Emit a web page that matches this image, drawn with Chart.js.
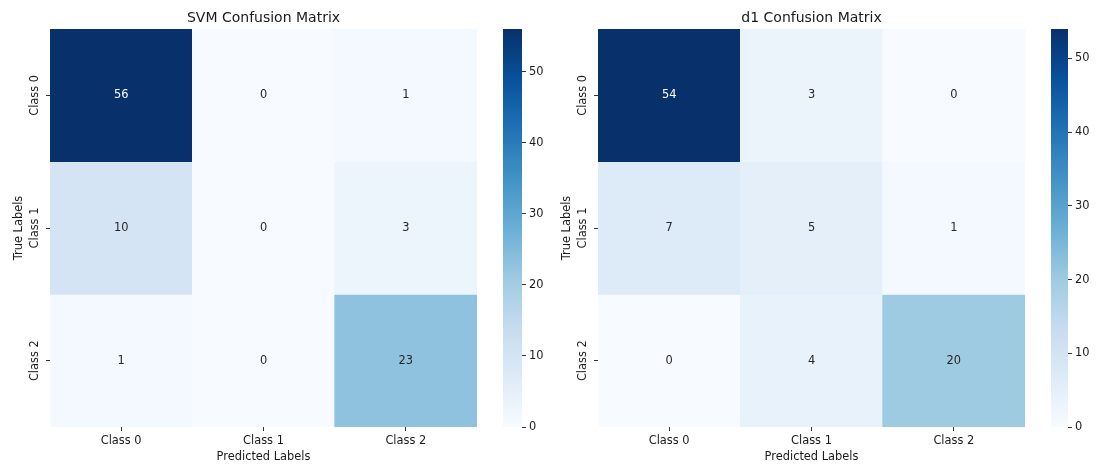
<!DOCTYPE html>
<html>
<head>
<meta charset="utf-8">
<script src="https://cdn.jsdelivr.net/npm/chart.js@4"></script>
<style>
    html, body { margin: 0; padding: 0; background: #fff; }
    #wrap { position: relative; width: 1096px; height: 465px; }
    canvas { position: absolute; }
</style>
</head>
<body>
<div id="wrap">
    <canvas id="svmHeat" style="left:0;top:0;width:490px;height:465px"></canvas>
    <canvas id="svmBar" style="left:490px;top:0;width:60px;height:465px"></canvas>
    <canvas id="d1Heat" style="left:548px;top:0;width:490px;height:465px"></canvas>
    <canvas id="d1Bar" style="left:1038px;top:0;width:58px;height:465px"></canvas>
</div>
<script>
// Data
const classLabels = ['Class 0', 'Class 1', 'Class 2'];
const svmMatrix = [
    [56, 0, 1],
    [10, 0, 3],
    [1, 0, 23]
];
const d1Matrix = [
    [54, 3, 0],
    [7, 5, 1],
    [0, 4, 20]
];
const colorbarTicks = [0, 10, 20, 30, 40, 50];

// matplotlib "Blues" colormap stops
const bluesStops = ['#f7fbff', '#deebf7', '#c6dbef', '#9ecae1', '#6baed6', '#4292c6', '#2171b5', '#08519c', '#08306b'];

const FONT = 'DejaVu Sans';
const TICK_SIZE = 11.4;
const TITLE_SIZE = 14;

const hexToRgb = (hex) => [1, 3, 5].map(i => parseInt(hex.substr(i, 2), 16));

const blues = (t) => {
    t = Math.max(0, Math.min(1, t));
    const pos = t * (bluesStops.length - 1);
    const i = Math.min(Math.floor(pos), bluesStops.length - 2);
    const f = pos - i;
    const a = hexToRgb(bluesStops[i]);
    const b = hexToRgb(bluesStops[i + 1]);
    return a.map((v, k) => Math.round(v + (b[k] - v) * f));
};

// seaborn picks white or dark annotation text by relative luminance
const luminance = (rgb) => {
    const c = rgb.map(v => {
        v /= 255;
        return v <= 0.03928 ? v / 12.92 : Math.pow((v + 0.055) / 1.055, 2.4);
    });
    return 0.2126 * c[0] + 0.7152 * c[1] + 0.0722 * c[2];
};

const rgbStr = (rgb) => `rgb(${rgb[0]},${rgb[1]},${rgb[2]})`;

// Draw the count in the middle of each cell
const annotatePlugin = {
    id: 'annotate',
    afterDatasetsDraw(chart) {
        const ctx = chart.ctx;
        const matrix = chart.options.plugins.annotate.matrix;
        const vmax = chart.options.plugins.annotate.vmax;
        ctx.save();
        ctx.font = `${TICK_SIZE}px "${FONT}"`;
        ctx.textAlign = 'center';
        ctx.textBaseline = 'middle';
        chart.data.datasets.forEach((ds, row) => {
            const meta = chart.getDatasetMeta(row);
            meta.data.forEach((bar, col) => {
                const v = matrix[row][col];
                const rgb = blues(v / vmax);
                ctx.fillStyle = luminance(rgb) > 0.408 ? '#262626' : '#ffffff';
                const p = bar.getCenterPoint();
                ctx.fillText(String(v), p.x, p.y);
            });
        });
        ctx.restore();
    }
};

const renderHeatmap = (canvasId, title, matrix) => {
    const vmax = Math.max(...matrix.flat());
    const datasets = matrix.map((rowVals, row) => ({
        label: classLabels[row],
        data: rowVals.map(() => [row - 0.5, row + 0.5]),
        backgroundColor: rowVals.map(v => rgbStr(blues(v / vmax))),
        borderWidth: 0,
        barPercentage: 1,
        categoryPercentage: 1,
        grouped: false
    }));

    new Chart(document.getElementById(canvasId), {
        type: 'bar',
        data: { labels: classLabels, datasets },
        options: {
            responsive: false,
            animation: false,
            layout: { padding: { left: 0, right: 13, top: 0, bottom: 0 } },
            plugins: {
                legend: { display: false },
                tooltip: { enabled: false },
                title: {
                    display: true,
                    fullSize: false,
                    text: title,
                    color: '#1a1a1a',
                    font: { family: FONT, size: TITLE_SIZE, weight: 'normal' },
                    padding: { top: 10, bottom: 2.2 }
                },
                annotate: { matrix, vmax }
            },
            scales: {
                x: {
                    type: 'category',
                    offset: true,
                    border: { display: false },
                    grid: { display: true, drawOnChartArea: false, drawTicks: true, tickLength: 4, offset: false, color: '#333' },
                    ticks: { color: '#1a1a1a', font: { family: FONT, size: TICK_SIZE }, padding: 3, maxRotation: 0 },
                    title: {
                        display: true,
                        text: 'Predicted Labels',
                        color: '#1a1a1a',
                        font: { family: FONT, size: TICK_SIZE },
                        padding: { top: 0, bottom: 1 }
                    },
                    afterFit: (scale) => { scale.height = 38; }
                },
                y: {
                    type: 'linear',
                    min: -0.5,
                    max: 2.5,
                    reverse: true,
                    border: { display: false },
                    grid: { display: true, drawOnChartArea: false, drawTicks: true, tickLength: 4, color: '#333' },
                    afterBuildTicks: (scale) => {
                        scale.ticks = classLabels.map((_, i) => ({ value: i }));
                    },
                    ticks: {
                        color: '#1a1a1a',
                        font: { family: FONT, size: TICK_SIZE },
                        minRotation: 90,
                        maxRotation: 90,
                        crossAlign: 'center',
                        padding: -9.4,
                        callback: (value) => classLabels[value]
                    },
                    title: {
                        display: true,
                        text: 'True Labels',
                        color: '#1a1a1a',
                        font: { family: FONT, size: TICK_SIZE },
                        padding: { top: 12, bottom: 0 }
                    },
                    afterFit: (scale) => { scale.width = 50; }
                }
            }
        },
        plugins: [annotatePlugin]
    });
};

const renderColorbar = (canvasId, matrix) => {
    const vmax = Math.max(...matrix.flat());
    new Chart(document.getElementById(canvasId), {
        type: 'bar',
        data: {
            labels: [''],
            datasets: [{
                data: [[0, vmax]],
                borderWidth: 0,
                barPercentage: 1,
                categoryPercentage: 1,
                backgroundColor: (ctx) => {
                    const area = ctx.chart.chartArea;
                    if (!area) return bluesStops[0];
                    const g = ctx.chart.ctx.createLinearGradient(0, area.bottom, 0, area.top);
                    bluesStops.forEach((c, i) => g.addColorStop(i / (bluesStops.length - 1), c));
                    return g;
                }
            }]
        },
        options: {
            responsive: false,
            animation: false,
            layout: { padding: { left: 13, right: 0, top: 29, bottom: 38 } },
            plugins: { legend: { display: false }, tooltip: { enabled: false } },
            scales: {
                x: { display: false, offset: true },
                y: {
                    position: 'right',
                    min: 0,
                    max: vmax,
                    border: { display: false },
                    grid: { display: true, drawOnChartArea: false, drawTicks: true, tickLength: 4, color: '#333' },
                    afterBuildTicks: (scale) => {
                        scale.ticks = colorbarTicks.map(v => ({ value: v }));
                    },
                    ticks: { color: '#1a1a1a', font: { family: FONT, size: TICK_SIZE }, padding: 3 },
                    afterFit: (scale) => { scale.width = 28; }
                }
            }
        }
    });
};

renderHeatmap('svmHeat', 'SVM Confusion Matrix', svmMatrix);
renderColorbar('svmBar', svmMatrix);
renderHeatmap('d1Heat', 'd1 Confusion Matrix', d1Matrix);
renderColorbar('d1Bar', d1Matrix);
</script>
</body>
</html>
